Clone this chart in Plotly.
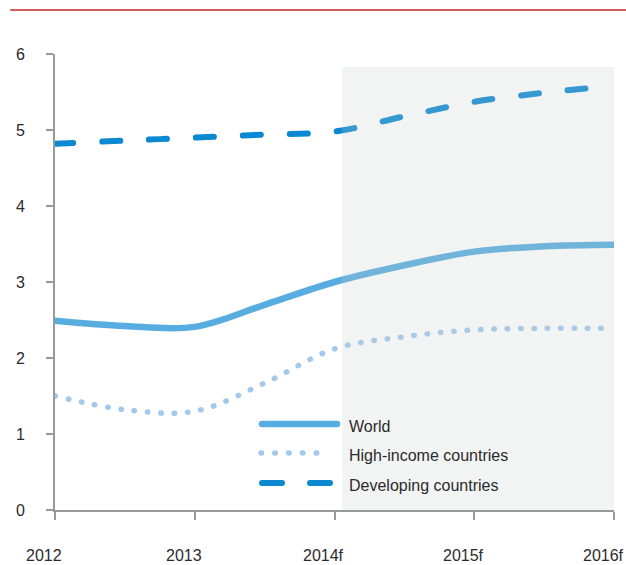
import plotly.graph_objects as go

# ---- data ----
x_pos = [0, 0.5, 1, 1.5, 2, 2.5, 3, 3.5, 4]
tick_vals = [0, 1, 2, 3, 4]
tick_text = ["2012", "2013", "2014f", "2015f", "2016f"]
world = [2.49, 2.42, 2.41, 2.70, 3.00, 3.22, 3.40, 3.47, 3.49]
high_income = [1.50, 1.32, 1.30, 1.67, 2.12, 2.28, 2.37, 2.39, 2.39]
developing = [4.82, 4.86, 4.90, 4.94, 4.98, 5.18, 5.37, 5.49, 5.58]
series_names = ["World", "High-income countries", "Developing countries"]
forecast_start = 2.055
forecast_top = 5.83

# ---- styles ----
FONT = "Liberation Sans, Arial, sans-serif"
FS = 16
C_WORLD = "#57ade0"
C_HIGH = "#a2c9ec"
C_DEV = "#0a89d2"
AXIS = "#999999"
TXT = "#2b2b2b"

fig = go.Figure()
fig.add_trace(go.Scatter(x=x_pos, y=world, mode="lines", name=series_names[0],
                         line=dict(color=C_WORLD, width=6.5, shape="spline", smoothing=1.0),
                         showlegend=False))
fig.add_trace(go.Scatter(x=x_pos, y=high_income, mode="lines", name=series_names[1],
                         line=dict(color=C_HIGH, width=5.5, shape="spline", dash="0.5px,12.9px"),
                         showlegend=False))
fig.add_trace(go.Scatter(x=x_pos, y=developing, mode="lines", name=series_names[2],
                         line=dict(color=C_DEV, width=6, shape="spline", dash="18px,29px"),
                         showlegend=False))

W, H = 626, 565
L, R, T, B = 55, 12, 54, 55
pw, ph = W - L - R, H - T - B
def px_x(p):
    return (p - L) / pw
def px_y(p):
    return (H - B - p) / ph

shapes = [
    # forecast shading (overlay)
    dict(type="rect", xref="x", yref="y", x0=forecast_start, x1=4, y0=0, y1=forecast_top,
         fillcolor="rgba(199,203,203,0.23)", line=dict(width=0), layer="above"),
    # top red rule
    dict(type="line", xref="paper", yref="paper", x0=px_x(11), x1=px_x(630), y0=px_y(10), y1=px_y(10),
         line=dict(color="#d75a5a", width=2)),
]
# custom legend keys
legend_rows = [(424, C_WORLD, 6.5, "solid", 262, 337),
               (453, C_HIGH, 5.5, "0.5px,13.3px", 261, 330),
               (483, C_DEV, 6, "20px,28px", 262, 330)]
annotations = []
for (py, col, w, dsh, xa, xb), name in zip(legend_rows, series_names):
    shapes.append(dict(type="line", xref="paper", yref="paper", x0=px_x(xa), x1=px_x(xb),
                       y0=px_y(py), y1=px_y(py), line=dict(color=col, width=w, dash=dsh)))
    annotations.append(dict(xref="paper", yref="paper", x=px_x(347), y=px_y(py + 2), text=name,
                            showarrow=False, xanchor="left", yanchor="middle",
                            font=dict(family=FONT, size=FS, color=TXT)))
# x tick labels (slightly offset to the left, as in the original)
for tv, tt in zip(tick_vals, tick_text):
    annotations.append(dict(xref="x", yref="paper", x=tv, y=px_y(555), text=tt, showarrow=False,
                            xanchor="center", yanchor="middle", xshift=-11,
                            font=dict(family=FONT, size=FS, color=TXT)))

fig.update_layout(
    width=W, height=H,
    margin=dict(l=L, r=R, t=T, b=B, autoexpand=False),
    plot_bgcolor="white", paper_bgcolor="white",
    font=dict(family=FONT, size=FS, color=TXT),
    shapes=shapes, annotations=annotations,
    showlegend=False,
    xaxis=dict(range=[0, 4], tickvals=tick_vals, showticklabels=False, showgrid=False, zeroline=False,
               showline=True, linecolor=AXIS, linewidth=2, ticks="outside", ticklen=8,
               tickwidth=2, tickcolor=AXIS, automargin=False),
    yaxis=dict(range=[0, 6], dtick=1, showgrid=False, zeroline=False,
               showline=True, linecolor=AXIS, linewidth=2, ticks="outside", ticklen=7,
               tickwidth=2, tickcolor=AXIS, ticklabelstandoff=18, automargin=False,
               tickfont=dict(family=FONT, size=FS, color=TXT)),
)

post = """
document.documentElement.style.margin='0';
document.body.style.margin='0';
document.body.style.padding='0';
var gd = document.getElementById('{plot_id}');
function rc(){
  gd.querySelectorAll('path.js-line, .shapelayer path').forEach(function(p){ p.style.strokeLinecap='round'; });
}
rc(); setTimeout(rc, 30); setTimeout(rc, 300);
if (gd.on) { gd.on('plotly_afterplot', rc); }
"""
fig.write_html("out.html", post_script=post, config={"displayModeBar": False, "staticPlot": True})
